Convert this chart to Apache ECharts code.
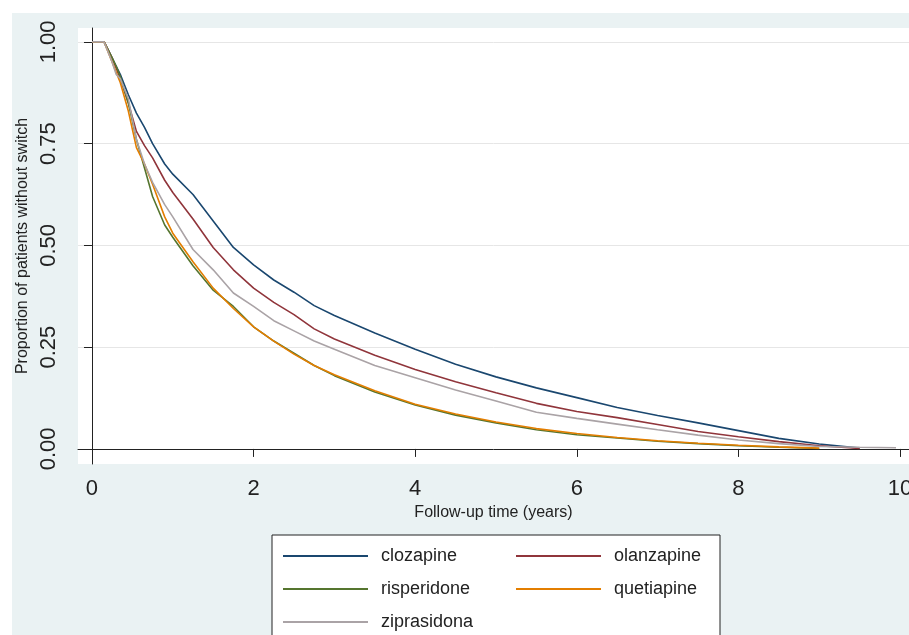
<!DOCTYPE html>
<html>
<head>
<meta charset="utf-8">
<script src="https://cdn.jsdelivr.net/npm/echarts@6/dist/echarts.min.js"></script>
<style>
html,body{margin:0;padding:0;background:#fff}
#main{width:909px;height:635px}
</style>
</head>
<body>
<div id="main"></div>
<script>
// follow-up time (years), shared by all curves
var years       = [0, 0.15, 0.25, 0.30, 0.35, 0.45, 0.55, 0.65, 0.75, 0.9, 1.0, 1.25, 1.5, 1.75, 2, 2.25, 2.5, 2.75, 3, 3.5, 4, 4.5, 5, 5.5, 6, 6.5, 7, 7.5, 8, 8.5, 9, 9.5, 9.95];
var clozapine   = [1, 1, 0.96, 0.94, 0.92, 0.87, 0.825, 0.79, 0.75, 0.70, 0.675, 0.625, 0.56, 0.495, 0.452, 0.415, 0.385, 0.352, 0.328, 0.285, 0.245, 0.208, 0.177, 0.150, 0.126, 0.102, 0.082, 0.064, 0.045, 0.026, 0.012, 0.002, null];
var olanzapine  = [1, 1, 0.96, 0.935, 0.91, 0.85, 0.78, 0.745, 0.715, 0.66, 0.63, 0.565, 0.495, 0.44, 0.395, 0.36, 0.33, 0.295, 0.27, 0.23, 0.195, 0.165, 0.138, 0.112, 0.092, 0.077, 0.060, 0.043, 0.030, 0.018, 0.008, 0.001, null];
var risperidone = [1, 1, 0.96, 0.94, 0.915, 0.85, 0.76, 0.69, 0.62, 0.55, 0.52, 0.45, 0.39, 0.35, 0.30, 0.265, 0.235, 0.205, 0.18, 0.14, 0.108, 0.083, 0.064, 0.047, 0.035, 0.027, 0.019, 0.013, 0.008, 0.004, 0.001, null, null];
var quetiapine  = [1, 1, 0.95, 0.925, 0.90, 0.83, 0.74, 0.70, 0.65, 0.57, 0.53, 0.46, 0.395, 0.345, 0.30, 0.265, 0.233, 0.205, 0.182, 0.143, 0.11, 0.086, 0.066, 0.05, 0.038, 0.028, 0.02, 0.014, 0.009, 0.005, 0.002, null, null];
var ziprasidona = [1, 1, 0.95, 0.92, 0.91, 0.86, 0.76, 0.70, 0.655, 0.60, 0.57, 0.49, 0.44, 0.383, 0.35, 0.315, 0.29, 0.265, 0.245, 0.205, 0.175, 0.145, 0.118, 0.09, 0.075, 0.061, 0.047, 0.034, 0.022, 0.013, 0.006, 0.004, 0.003];

var xTicks = [0, 2, 4, 6, 8, 10];
var yTicks = [0, 0.25, 0.5, 0.75, 1];

function pairs(vals) {
    var out = [];
    for (var i = 0; i < years.length; i++) {
        if (vals[i] != null) out.push([years[i], vals[i]]);
    }
    return out;
}

function curve(name, vals, color) {
    return {
        name: name,
        type: 'line',
        symbol: 'none',
        data: pairs(vals),
        lineStyle: {color: color, width: 1.6},
        itemStyle: {color: color}
    };
}

var legendText = {fontSize: 18, lineHeight: 20, color: '#222', fontFamily: 'Liberation Sans, Arial, sans-serif', padding: [0, 0, 0, 8]};

var myChart = echarts.init(document.getElementById('main'));
option = {
    backgroundColor: '#eaf2f3',
    animation: false,
    textStyle: {fontFamily: 'Liberation Sans, Arial, sans-serif'},
    graphic: [
        {type: 'rect', shape: {x: 0, y: 0, width: 909, height: 13}, style: {fill: '#fff'}, silent: true},
        {type: 'rect', shape: {x: 0, y: 0, width: 12, height: 635}, style: {fill: '#fff'}, silent: true},
        {type: 'rect', z: 1, shape: {x: 272, y: 535, width: 448, height: 120}, style: {fill: '#fff', stroke: '#222', lineWidth: 1}, silent: true}
    ],
    grid: {
        left: 78, right: 0, top: 28, bottom: 171,
        show: true, backgroundColor: '#fff', borderWidth: 0,
        outerBoundsMode: 'none'
    },
    legend: [
        {data: ['clozapine', 'risperidone', 'ziprasidona'], orient: 'vertical', left: 283, top: 546, height: 100,
         padding: 0, icon: 'rect', itemWidth: 85, itemHeight: 2, itemGap: 13, z: 10, textStyle: legendText},
        {data: ['olanzapine', 'quetiapine'], orient: 'vertical', left: 516, top: 546, height: 100,
         padding: 0, icon: 'rect', itemWidth: 85, itemHeight: 2, itemGap: 13, z: 10, textStyle: legendText}
    ],
    xAxis: {
        type: 'value',
        min: -0.173,
        max: 10.111,
        name: 'Follow-up time (years)',
        nameLocation: 'middle',
        nameGap: 38,
        nameTextStyle: {fontSize: 16, color: '#222'},
        axisLine: {lineStyle: {color: '#222', width: 1}},
        axisTick: {customValues: xTicks, length: 8, lineStyle: {color: '#222'}},
        axisLabel: {customValues: xTicks, fontSize: 22, color: '#222', margin: 14},
        splitLine: {show: false}
    },
    yAxis: {
        type: 'value',
        min: -0.037,
        max: 1.034,
        name: 'Proportion of patients without switch',
        nameLocation: 'middle',
        nameGap: 44,
        nameTextStyle: {fontSize: 16, color: '#222'},
        axisLine: {show: true, lineStyle: {color: '#222', width: 1}},
        axisTick: {show: true, customValues: yTicks, length: 8, lineStyle: {color: '#222'}},
        axisLabel: {
            customValues: yTicks, rotate: 90, fontSize: 22, color: '#222', margin: 18,
            formatter: function (v) { return v.toFixed(2); }
        },
        splitLine: {show: true, lineStyle: {color: '#e6e6e6', width: 1}}
    },
    series: [
        curve('clozapine', clozapine, '#1a476f'),
        curve('olanzapine', olanzapine, '#90353b'),
        curve('risperidone', risperidone, '#55752f'),
        curve('quetiapine', quetiapine, '#e37e00'),
        curve('ziprasidona', ziprasidona, '#aaa3a6')
    ]
};
if (option && typeof option == "object") {
    myChart.setOption(option, true);
}
</script>
</body>
</html>
